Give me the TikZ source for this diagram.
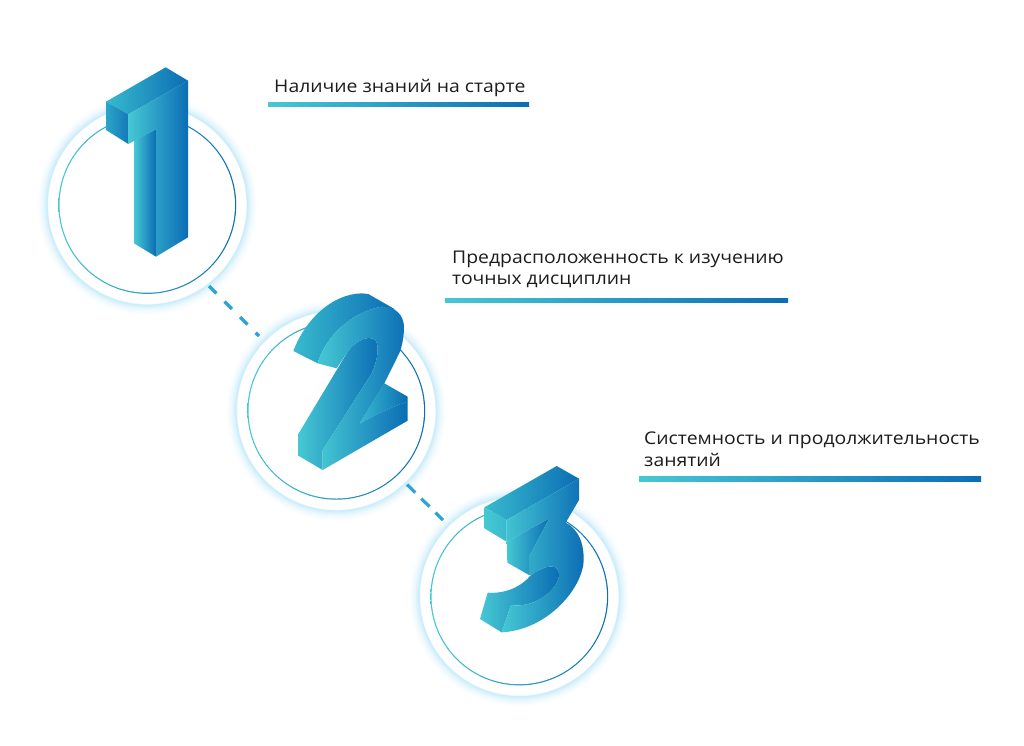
\documentclass[tikz,border=0pt]{standalone}
\usepackage{fontspec}
\setmainfont[FakeStretch=1.107]{Open Sans}
\definecolor{tealA}{HTML}{46C8D3}
\definecolor{tealB}{HTML}{38BACE}
\definecolor{blueA}{HTML}{0B6DB5}
\definecolor{blueB}{HTML}{1578BA}
\definecolor{sideA}{HTML}{2AA6C8}
\definecolor{midS}{HTML}{2FA6CA}
\definecolor{glowc}{HTML}{C6ECFA}
\definecolor{dashc}{HTML}{2FA3D6}
\definecolor{txt}{HTML}{1C1C1C}
\tikzset{
  face/.style={left color=tealA,right color=blueA,draw=none},
  facelow/.style={left color=tealA,middle color=midS,right color=blueA,draw=none},
  facedim/.style={left color=tealB,right color=blueA,draw=none},
  facesoft/.style={left color=sideA,right color=blueB,draw=none},
  faceteal/.style={left color=tealA,right color=tealB,draw=none},
  bar/.style={left color=tealA,right color=blueA,draw=none,minimum height=4.6pt,inner sep=0pt,anchor=west},
  label/.style={anchor=base west,inner sep=0pt,align=left,text=txt,font=\fontsize{17.5}{21.5}\selectfont},
  disc/.style={circle,fill=white,minimum size=198pt,inner sep=0pt},
  ringo/.style={circle,left color=tealA,right color=blueA,minimum size=177.8pt,inner sep=0pt},
  ringi/.style={circle,fill=white,minimum size=175.4pt,inner sep=0pt},
  dashline/.style={draw=dashc,line width=3.2pt},
}
\newcommand{\halo}[3]{%
  \foreach \i in {0,...,16}{%
    \pgfmathsetmacro{\rr}{112-\i*0.75}%
    \pgfmathsetmacro{\pp}{(\i/16)^2*100}%
    \fill[glowc!\pp!white] (#1,#2) circle[radius=\rr pt];
  }%
  \fill[glowc!40!white] (#1,#2) circle[radius=99.6pt];
  \node[disc] (#3d) at (#1,#2) {};
  \node[ringo] (#3o) at (#1,#2) {};
  \node[ringi] (#3i) at (#1,#2) {};
}
\begin{document}
\begin{tikzpicture}[x=1pt,y=-1pt]
\useasboundingbox (0,0) rectangle (1024,745);
\fill[white] (0,0) rectangle (1024,745);
\halo{147.3}{205}{c1}
\halo{336.3}{410.8}{c2}
\halo{519.3}{596.5}{c3}
% dashed connectors
\coordinate (a1) at (209,286);
\coordinate (a2) at (259,336);
\coordinate (b1) at (407,484.5);
\coordinate (b2) at (443,520);
\draw[dashline,dash pattern=on 10.5pt off 11.5pt] (a1) -- (a2);
\draw[dashline,dash pattern=on 11.5pt off 8.5pt] (b1) -- (b2);
% digit 1
\begin{scope}[shift={(30,50)},x=0.33333pt,y=-0.33333pt]
\path[facedim] (228,155)--(407,52)--(474,92)--(295,193)--cycle;
\path[facesoft] (228,155)--(295,193)--(295,282)--(228,240)--cycle;
\path[face] (312,272)--(378,238)--(378,620)--(312,580)--cycle;
\path[face] (295,193)--(474,92)--(474,562)--(378,620)--(378,238)--(295,282)--cycle;
\end{scope}
% digit 2
\begin{scope}[shift={(225,280)},x=0.33333pt,y=-0.33333pt]
\path[facedim] (205,213) .. controls (240,120) and (320,42) .. (410,40) -- (430,42) -- (510,88) -- (470,80) .. controls (380,95) and (300,170) .. (278,250) -- cycle;
\path[facelow] (220,462) -- (370,212) .. controls (395,180) and (430,165) .. (450,180) .. controls (465,195) and (458,240) .. (440,280) -- (293,510) -- (293,570) -- (220,527) -- cycle;
\path[facedim] (478,310) -- (548,350) -- (548,365) .. controls (500,380) and (440,410) .. (403,432) -- cycle;
\path[face] (278,250) .. controls (300,170) and (380,95) .. (470,80) .. controls (510,78) and (540,105) .. (537,150) .. controls (535,180) and (530,200) .. (525,215) -- (478,310) -- (403,432) .. controls (440,410) and (500,380) .. (548,365) -- (548,422) -- (293,570) -- (293,510) -- (440,280) .. controls (458,240) and (465,195) .. (450,180) .. controls (430,165) and (395,180) .. (370,212) -- (335,265) -- cycle;
\end{scope}
% digit 3
\begin{scope}[shift={(405,450)},x=0.33333pt,y=-0.33333pt]
\path[facedim] (238,172)--(455,48)--(522,86)--(305,210)--cycle;
\path[faceteal] (238,172)--(305,210)--(305,275)--(238,235)--cycle;
\path[face] (305,275)--(433,205)--(372,320)--(372,375)--(307,338)--cycle;
\path[facelow] (248,428) .. controls (300,432) and (350,410) .. (378,375) .. controls (420,345) and (465,335) .. (462,380) .. controls (450,430) and (380,475) .. (318,465) -- (290,547) -- (225,507) -- cycle;
\path[face] (305,210) -- (522,86) -- (522,150) -- (482,218) .. controls (525,240) and (540,290) .. (535,345) .. controls (520,430) and (420,540) .. (290,547) -- (318,465) .. controls (380,475) and (450,430) .. (462,380) .. controls (465,335) and (420,345) .. (378,375) -- (372,375) -- (372,320) -- (433,205) -- (305,275) -- cycle;
\end{scope}
% labels
\node[bar,minimum width=261pt] (b1n) at (268,104.3) {};
\node[bar,minimum width=343pt] (b2n) at (445,300.5) {};
\node[bar,minimum width=342pt] (b3n) at (639,478.7) {};
\node[label] (t1) at (274,92) {Наличие знаний на старте};
\node[label] (t2) at (452,284.6) {Предрасположенность к изучению\\точных дисциплин};
\node[label] (t3) at (644,466.4) {Системность и продолжительность\\занятий};
\end{tikzpicture}
\end{document}
